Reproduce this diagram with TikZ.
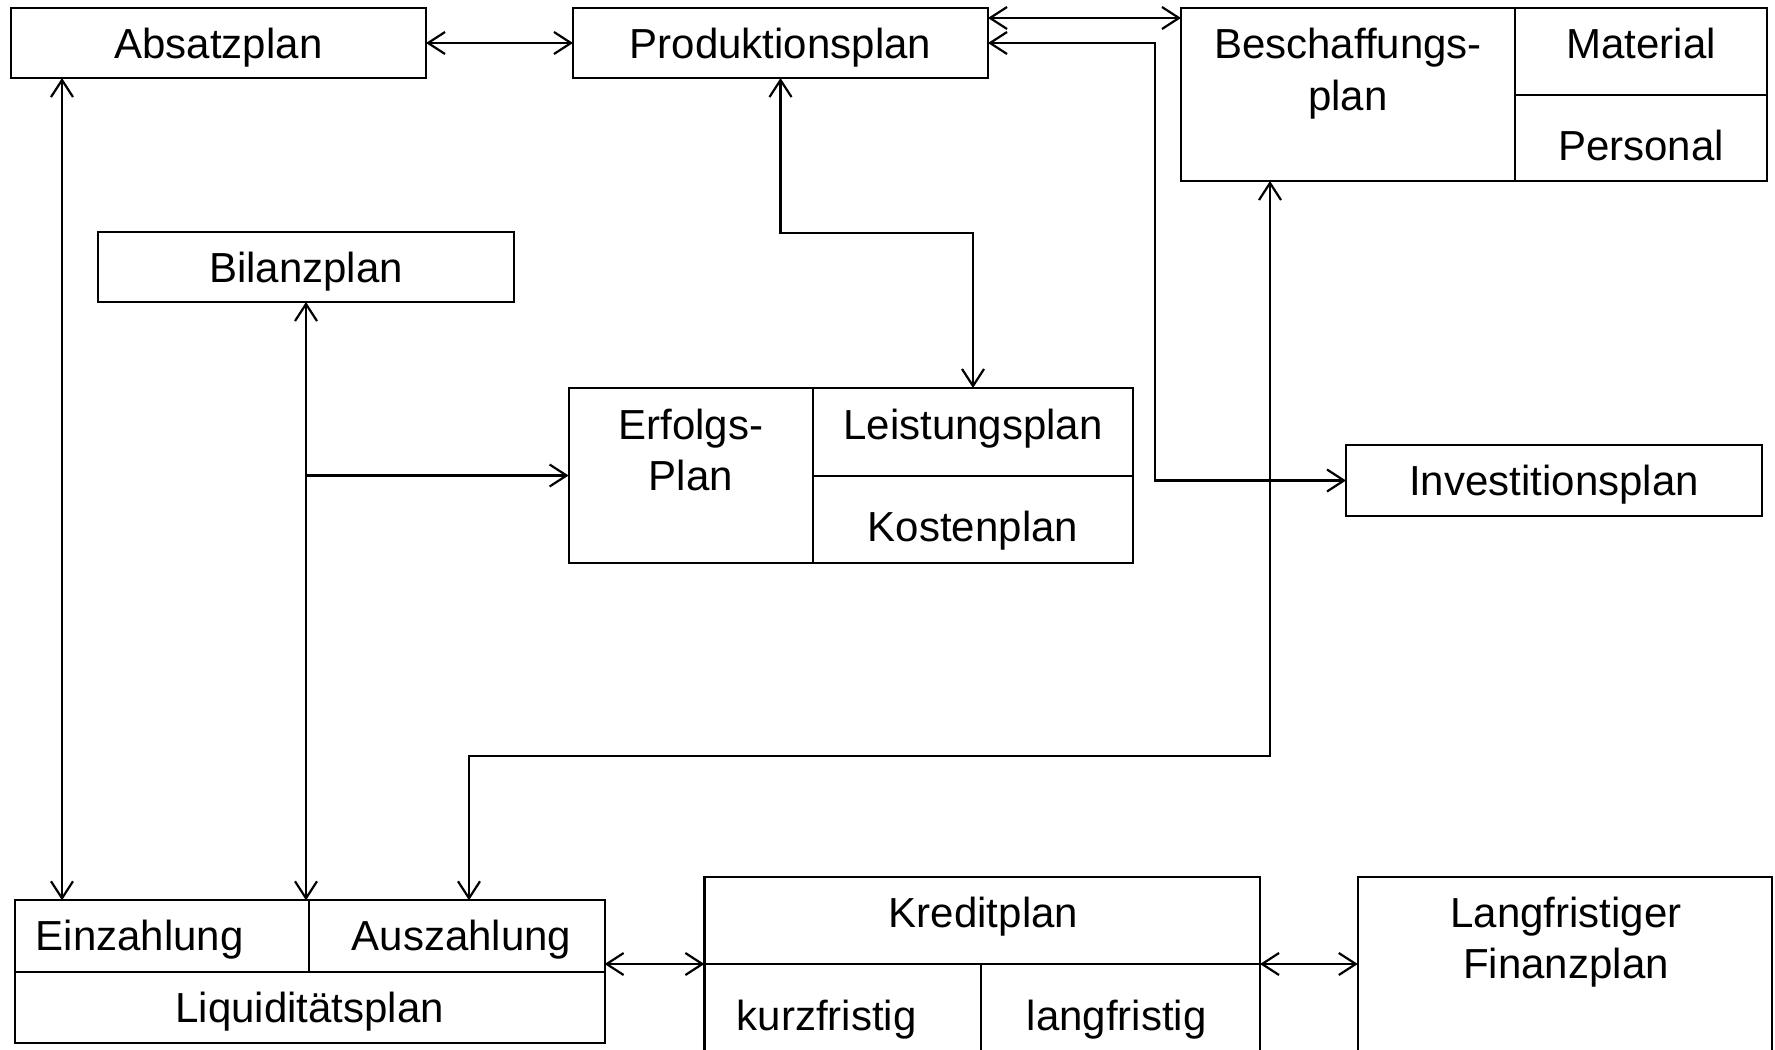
\documentclass[tikz,border=0pt]{standalone}
\usepackage{fontspec}
\setmainfont{Liberation Sans}
\usetikzlibrary{arrows.meta,calc}

\begin{document}
\begin{tikzpicture}[
  x=0.5pt, y=-0.5pt,
  line width=1.1pt,
  >={Straight Barb[length=8.5pt,width=11pt]},
  box/.style={draw, rectangle, inner sep=0pt, outer sep=0pt,
    font=\fontsize{21}{25.5}\selectfont, text height=15pt, text depth=0pt},
  lbl/.style={inner sep=0pt, anchor=base, font=\fontsize{21}{25.5}\selectfont},
  link/.style={<->},
]
\useasboundingbox (0,0) rectangle (1775,1049);
\clip (0,0) rectangle (1775,1049);

% ---- simple boxes ----
\node[box, minimum width=207.5pt, minimum height=35pt] (absatz) at (218.5,43) {Absatzplan};
\node[box, minimum width=207.5pt, minimum height=35pt] (prod)   at (780.5,43) {Produktionsplan};
\node[box, minimum width=208pt,   minimum height=35pt] (bilanz) at (306,267)  {Bilanzplan};
\node[box, minimum width=208pt,   minimum height=35.5pt] (invest) at (1554,480.5) {Investitionsplan};

% ---- Beschaffungsplan ----
\node[box, minimum width=293pt, minimum height=86.5pt] (besch) at (1474,94.5) {};
\draw (1515,8) -- (1515,181);
\draw (1515,95) -- (1767,95);
\node[lbl] (beschA) at (1348,58.6) {Beschaffungs-};
\node[lbl] (beschB) at (1348,110) {plan};
\node[lbl] (mat)    at (1641,58.6) {Material};
\node[lbl] (pers)   at (1641,160) {Personal};

% ---- Erfolgsplan ----
\node[box, minimum width=282.2pt, minimum height=87.5pt] (erfolg) at (850.8,475.5) {};
\draw (813,388) -- (813,563);
\draw (813,476) -- (1133,476);
\node[lbl] (erfA)  at (690.8,439.3) {Erfolgs-};
\node[lbl] (erfB)  at (690.8,490) {Plan};
\node[lbl] (leist) at (973,439) {Leistungsplan};
\node[lbl] (kost)  at (973,541.7) {Kostenplan};

% ---- Liquiditaetsplan ----
\node[box, minimum width=295pt, minimum height=71.2pt] (liqui) at (309.6,971.5) {};
\draw (14.7,971.7) -- (604.6,971.7);
\draw (309,900.3) -- (309,971.7);
\node[lbl] (einz) at (139.8,950.7) {Einzahlung};
\node[lbl] (ausz) at (461.5,950.7) {Auszahlung};
\node[lbl] (liq)  at (309.7,1022) {Liquiditätsplan};

% ---- Kreditplan ----
\node[box, minimum width=277.8pt, minimum height=96.7pt] (kredit) at (982.2,973.4) {};
\draw (704.4,964) -- (1260,964);
\draw (980.7,964) -- (980.7,1070);
\node[lbl] (kred)  at (983.5,927.7) {Kreditplan};
\node[lbl] (kurz)  at (826.7,1030) {kurzfristig};
\node[lbl] (lang)  at (1116.6,1030) {langfristig};

% ---- Langfristiger Finanzplan ----
\node[box, minimum width=207.1pt, minimum height=96.7pt] (langfr) at (1564.9,973.4) {};
\node[lbl] (lfA) at (1566,927.7) {Langfristiger};
\node[lbl] (lfB) at (1566,978.3) {Finanzplan};

% ---- routing points ----
\coordinate (top)    at (0,18);
\coordinate (invcol) at (1155,260);
\coordinate (prodbend) at (900,233);
\coordinate (einzcol) at (62,0);
\coordinate (auszbend) at (469,756);
\coordinate (beschbend) at (1270,756);
\coordinate (kmid)   at (0,964);

% ---- connectors ----
\draw[link] (absatz.east) -- (prod.west);
\draw[link] (prod.east |- top) -- (besch.west |- top);
\draw[link] (prod.east) -| (invcol) |- (invest.west);
\draw[link] (prod.south) |- (prodbend) -| (leist |- erfolg.north);
\draw[link] (absatz.south -| einzcol) -- (liqui.north -| einzcol);
\draw[link] (bilanz.south) -- (bilanz.south |- liqui.north);
\draw[->] (bilanz.south |- erfolg.west) -- (erfolg.west);
\draw[link] (auszbend |- liqui.north) -- (auszbend) -- (beschbend) -- (beschbend |- besch.south);
\draw[link] (liqui.east |- kmid) -- (kredit.west |- kmid);
\draw[link] (kredit.east |- kmid) -- (langfr.west |- kmid);
\end{tikzpicture}
\end{document}
